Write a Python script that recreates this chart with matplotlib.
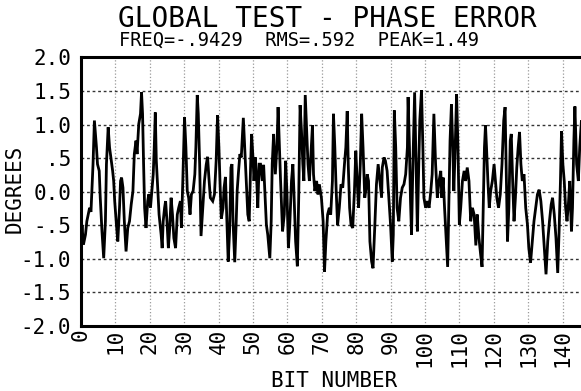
import matplotlib
matplotlib.use('Agg')
import matplotlib.pyplot as plt

# phase error trace (bit number, degrees)
bit_number = [
    0.0, 0.3, 0.7, 1.3, 1.7, 2.5, 2.9, 3.5, 3.9, 4.5, 4.8, 5.3, 5.6, 6.1, 6.6, 7.1, 7.4, 7.9, 8.3, 8.8, 9.2, 9.5, 9.8,
    10.3, 10.7, 11.2, 11.5, 11.8, 12.2, 12.6, 13.1, 13.6, 14.1, 14.6, 15.1, 15.5, 16.0, 16.3, 16.8, 17.3, 17.6, 17.9, 18.2, 18.5, 18.9, 19.4, 19.7,
    20.2, 20.6, 21.0, 21.3, 21.6, 21.9, 22.3, 22.7, 23.3, 23.6, 23.9, 24.3, 24.6, 25.0, 25.4, 25.8, 26.2, 26.6, 27.0, 27.5, 28.0, 28.4, 28.9, 29.2, 29.6,
    30.1, 30.5, 30.9, 31.3, 31.7, 32.1, 32.6, 33.1, 33.4, 33.8, 34.1, 34.5, 34.9, 35.4, 35.9, 36.4, 36.8, 37.2, 37.6, 38.3, 38.8, 39.3, 39.7,
    40.1, 40.5, 40.8, 41.3, 41.6, 42.0, 42.5, 42.8, 43.2, 43.6, 43.9, 44.2, 44.7, 45.1, 45.4, 45.8, 46.2, 46.6, 47.2, 47.6, 48.0, 48.5, 48.9, 49.3, 49.6,
    50.0, 50.3, 50.7, 51.1, 51.4, 51.8, 52.2, 52.7, 53.1, 53.6, 53.9, 54.3, 54.9, 55.3, 55.6, 56.0, 56.5, 57.0, 57.3, 57.7, 58.0, 58.6, 59.1, 59.5, 59.9,
    60.3, 60.7, 61.2, 61.6, 61.9, 62.4, 62.9, 63.3, 63.7, 64.1, 64.5, 64.8, 65.2, 65.6, 66.0, 66.4, 66.8, 67.3, 67.6, 68.0, 68.5, 68.9, 69.3, 69.9,
    70.4, 70.8, 71.2, 71.7, 72.2, 72.6, 73.1, 73.4, 73.8, 74.2, 74.6, 75.1, 75.6, 76.1, 76.6, 77.0, 77.4, 77.7, 78.1, 78.5, 79.0, 79.5, 79.9,
    80.3, 80.7, 81.2, 81.6, 82.0, 82.5, 82.9, 83.2, 83.6, 84.0, 84.5, 84.9, 85.4, 85.9, 86.4, 86.9, 87.4, 87.6, 88.1, 88.5, 89.0, 89.5,
    90.0, 90.5, 90.8, 91.1, 91.5, 91.9, 92.4, 92.9, 93.4, 93.9, 94.4, 94.9, 95.1, 95.5, 95.8, 96.1, 96.5, 97.0, 97.4, 97.8, 98.1, 98.5, 99.0, 99.4, 99.7,
    100.2, 100.7, 101.2, 101.7, 102.1, 102.6, 103.1, 103.6, 104.1, 104.6, 104.9, 105.3, 105.7, 106.1, 106.6, 106.9, 107.3, 107.7, 108.1, 108.4, 108.8, 109.2, 109.6,
    110.0, 110.4, 110.9, 111.4, 111.8, 112.3, 112.8, 113.3, 113.8, 114.3, 114.8, 115.2, 115.7, 116.2, 116.6, 116.9, 117.3, 117.6, 117.9, 118.3, 118.7, 119.1, 119.6,
    120.1, 120.5, 120.9, 121.4, 121.9, 122.4, 122.9, 123.3, 123.6, 124.0, 124.4, 124.8, 125.1, 125.5, 125.9, 126.3, 126.7, 127.1, 127.5, 127.9, 128.3, 128.8, 129.3, 129.8,
    130.2, 130.7, 131.2, 131.7, 132.2, 132.7, 133.2, 133.7, 134.2, 134.7, 135.2, 135.7, 136.2, 136.7, 137.1, 137.6, 138.1, 138.6, 139.0, 139.4, 139.7,
    140.1, 140.5, 140.9, 141.3, 141.7, 142.1, 142.6, 142.9, 143.3, 143.6, 144.1, 144.6, 145.0, 145.5, 146.0,
]
phase_deg = [
    -0.75, -0.5, -0.79, -0.64, -0.44, -0.24, -0.3, 0.41, 1.06, 0.66, 0.41, 0.31, -0.09, -0.59, -0.99, -0.44, 0.41, 0.96, 0.66, 0.46, 0.31, 0.16, -0.14,
    -0.49, -0.74, -0.24, 0.16, 0.21, 0.06, -0.44, -0.89, -0.54, -0.44, -0.19, 0.01, 0.56, 0.76, 0.56, 1.01, 1.16, 1.48, 1.16, 0.41, -0.24, -0.54, -0.14, -0.04,
    -0.24, 0.01, 0.26, 0.66, 1.18, 0.46, 0.06, -0.34, -0.64, -0.84, -0.44, -0.24, -0.14, -0.44, -0.84, -0.54, -0.09, -0.34, -0.69, -0.84, -0.34, -0.24, -0.14, -0.54, 0.16,
    1.11, 0.66, 0.01, -0.09, -0.34, -0.04, 0.01, 0.26, 0.66, 1.44, 1.16, 0.41, -0.66, -0.24, 0.16, 0.40, 0.52, 0.20, -0.09, -0.14, -0.04, 0.46, 1.14,
    0.66, 0.01, -0.40, -0.24, 0.06, 0.22, -0.54, -1.04, -0.59, 0.36, 0.41, -0.44, -1.05, -0.49, 0.01, 0.30, 0.56, 0.51, 1.10, 0.66, 0.21, -0.34, -0.44, 0.36, 0.86,
    0.51, 0.16, 0.51, 0.16, -0.24, 0.41, 0.41, 0.16, 0.40, -0.14, -0.49, -0.64, -0.99, -0.44, 0.41, 0.86, 0.26, 0.71, 1.26, 0.66, 0.20, -0.59, -0.34, 0.46, -0.04,
    -0.84, -0.49, 0.16, 0.41, 0.01, -0.74, -1.11, -0.09, 1.29, 0.91, 0.41, 0.16, 1.44, 0.91, 0.41, 0.16, 0.51, 0.99, 0.26, 0.01, 0.16, -0.04, 0.11, -0.09,
    -0.44, -1.19, -0.74, -0.34, -0.24, -0.34, 0.16, 1.16, 0.66, 0.01, -0.50, -0.24, 0.11, 0.06, 0.41, 0.66, 1.20, 0.41, -0.24, -0.49, -0.54, 0.01, 0.61,
    0.16, -0.24, 0.41, 1.16, 0.66, -0.09, 0.06, 0.26, 0.16, -0.74, -1.04, -1.14, -0.54, 0.11, 0.41, 0.16, -0.09, 0.36, 0.51, 0.46, 0.31, -0.09,
    -0.49, -1.04, -0.64, 1.21, 0.66, -0.24, -0.44, -0.09, 0.06, 0.11, 0.26, 0.66, 1.41, 0.66, -0.14, -0.64, 0.41, 1.48, 0.41, -0.59, 0.16, 1.06, 1.51, 0.66, -0.09,
    -0.24, -0.14, -0.24, 0.01, 0.26, 1.16, 0.41, -0.09, 0.16, 0.31, -0.09, 0.21, -0.24, -0.64, -1.12, -0.34, 0.76, 1.30, 0.66, 0.01, 0.66, 1.45, 0.66,
    -0.49, -0.24, 0.16, 0.31, 0.16, 0.36, 0.16, -0.44, -0.24, -0.34, -0.80, -0.34, -0.69, -0.94, -1.12, -0.34, 0.66, 0.99, 0.66, 0.16, -0.24, 0.01, 0.16,
    0.41, 0.16, -0.09, -0.24, -0.04, 0.41, 1.06, 1.26, 0.41, -0.74, -0.24, 0.76, 0.86, 0.16, -0.44, -0.09, 0.36, 0.66, 0.89, 0.41, 0.16, 0.26, -0.24, -0.49,
    -0.84, -1.06, -0.74, -0.44, -0.24, -0.04, 0.03, -0.14, -0.44, -0.84, -1.23, -0.74, -0.44, -0.19, -0.09, -0.34, -0.69, -1.21, -0.59, 0.16, 0.90,
    0.41, 0.16, -0.24, -0.44, -0.19, 0.16, -0.59, -0.24, 0.76, 1.27, 0.41, 0.16, 0.66, 1.06, 0.41,
]

x_ticks = list(range(0, 150, 10))
x_tick_labels = [str(t) for t in x_ticks]
y_ticks = [-2.0, -1.5, -1.0, -0.5, 0.0, 0.5, 1.0, 1.5, 2.0]
y_tick_labels = ['-2.0', '-1.5', '-1.0', '-.5', '0.0', '.5', '1.0', '1.5', '2.0']

title = 'GLOBAL TEST - PHASE ERROR'
subtitle = 'FREQ=-.9429  RMS=.592  PEAK=1.49'

plt.rcParams['font.family'] = ['DejaVu Sans Mono']

fig = plt.figure(figsize=(5.81, 3.91), dpi=100, facecolor='white')
# axes runs past the right edge, like the cropped scan
ax = fig.add_axes([0.1394, 0.1662, 0.888, 0.687])

ax.plot(bit_number, phase_deg, color='black', lw=2.0, solid_joinstyle='miter')

ax.set_xlim(0, 150)
ax.set_ylim(-2.0, 2.0)
ax.set_xticks(x_ticks)
ax.set_xticklabels(x_tick_labels, rotation=90, fontsize=15)
ax.set_yticks(y_ticks)
ax.set_yticklabels(y_tick_labels, fontsize=15)
ax.tick_params(axis='both', length=0)
ax.tick_params(axis='x', pad=2)
ax.tick_params(axis='y', pad=7)

ax.grid(axis='x', color='#999999', ls=':', lw=0.9)
ax.grid(axis='y', color='#333333', ls=(0, (2, 2)), lw=1.0)
ax.set_axisbelow(True)

for side in ['left', 'bottom', 'top']:
    ax.spines[side].set_linewidth(2.2)
ax.spines['right'].set_visible(False)

fig.text(0.563, 0.931, title, fontsize=20, ha='center', va='baseline')
fig.text(0.515, 0.882, subtitle, fontsize=13.5, ha='center', va='baseline')
fig.text(0.026, 0.517, 'DEGREES', fontsize=15, rotation=90, ha='center', va='center')
fig.text(0.575, 0.025, 'BIT NUMBER', fontsize=15, ha='center', va='center')

plt.savefig('out.png', dpi=100, facecolor='white')
plt.close()
